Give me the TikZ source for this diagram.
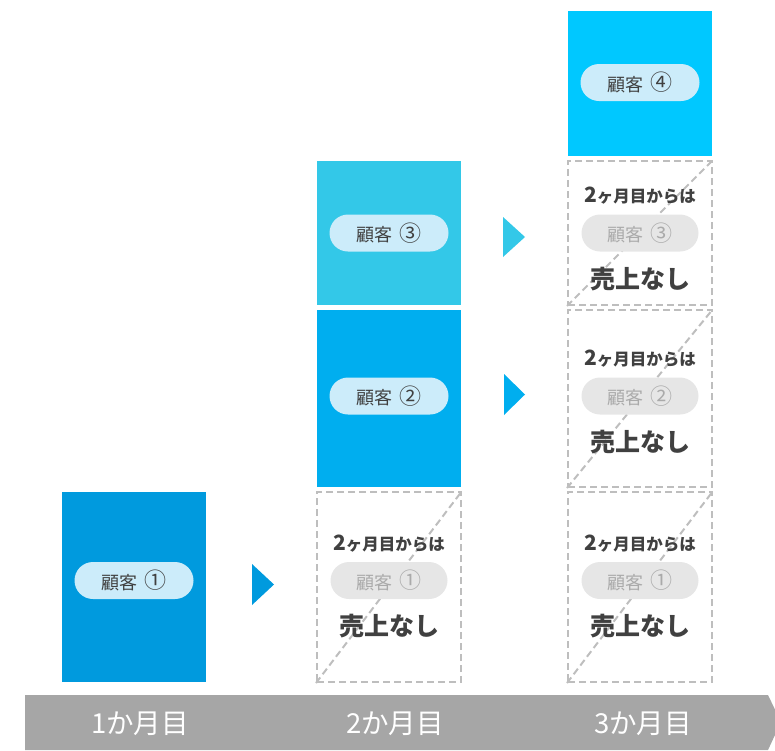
\documentclass[tikz,border=0pt]{standalone}
\usepackage{fontspec}
\setmainfont{Noto Sans CJK JP}
\definecolor{cA}{RGB}{0,154,222}
\definecolor{cB}{RGB}{0,174,239}
\definecolor{cC}{RGB}{51,200,232}
\definecolor{cD}{RGB}{0,200,255}
\definecolor{pillc}{RGB}{204,236,250}
\definecolor{pillg}{RGB}{230,230,230}
\definecolor{txtg}{RGB}{170,170,170}
\definecolor{txtd}{RGB}{64,64,64}
\definecolor{dash}{RGB}{190,190,190}
\definecolor{barc}{RGB}{166,166,166}
\newcommand{\circd}[1]{\hspace{7pt}\raisebox{0.5pt}{\fontsize{22}{24}\selectfont #1}}
\begin{document}
\begin{tikzpicture}[x=1pt,y=-1pt,
  cbox/.style={rectangle,inner sep=0,minimum width=144pt},
  dbox/.style={rectangle,inner sep=0,minimum width=144pt,draw=dash,line width=2pt,dash pattern=on 7pt off 4pt},
  diag/.style={draw=dash,line width=2pt,dash pattern=on 7pt off 4pt},
  pill/.style={rounded corners=18.5pt,inner sep=0,minimum width=119pt,minimum height=37pt,fill=pillc,text=txtd,font=\fontsize{18}{20}\selectfont},
  gpill/.style={rounded corners=18.5pt,inner sep=0,minimum width=117pt,minimum height=37pt,fill=pillg,text=txtg,font=\fontsize{18}{20}\selectfont},
  top/.style={text=txtd,font=\bfseries\fontsize{16.5}{20}\selectfont,inner sep=0},
  bot/.style={text=txtd,font=\bfseries\fontsize{25}{30}\selectfont,inner sep=0},
  lbl/.style={text=white,font=\fontsize{27.5}{32}\selectfont,inner sep=0}
]
\useasboundingbox (0,0) rectangle (775,750);
% bottom bar
\fill[barc] (25,695) -- (768,695) -- (781,722) -- (768,750) -- (25,750) -- cycle;
\node[lbl] (m1) at (140,724) {1か月目};
\node[lbl] (m2) at (395,724) {2か月目};
\node[lbl] (m3) at (643,724) {3か月目};
% column 1
\node[cbox,fill=cA,minimum height=190pt] (k1) at (134,587) {};
\node[pill] (p1) at (134,580.5) {顧客\circd{①}};
% column 2
\node[dbox,minimum height=190pt] (d21) at (389,587) {};
\draw[diag] (d21.south west) -- (d21.north east);
\node[cbox,fill=cB,minimum height=177pt] (k2) at (389,398.5) {};
\node[pill] (p2) at (389,396) {顧客\circd{②}};
\node[cbox,fill=cC,minimum height=144pt] (k3) at (389,233) {};
\node[pill] (p3) at (389,233) {顧客\circd{③}};
% column 3
\node[cbox,fill=cD,minimum height=145pt] (k4) at (640,83.5) {};
\node[pill] (p4) at (640,82.5) {顧客\circd{④}};
\node[dbox,minimum height=144pt] (d33) at (640,233) {};
\draw[diag] (d33.south west) -- (d33.north east);
\node[dbox,minimum height=177pt] (d32) at (640,398.5) {};
\draw[diag] (d32.south west) -- (d32.north east);
\node[dbox,minimum height=190pt] (d31) at (640,587) {};
\draw[diag] (d31.south west) -- (d31.north east);
% dashed box contents
\foreach \n/\x/\y/\c in {a/389/580.5/①, b/640/580.5/①, c/640/396/②, d/640/233/③}{
  \node[gpill] (g\n) at (\x,\y) {顧客\circd{\c}};
  \node[top] (t\n) at (\x,\y-37) {{\fontsize{21}{24}\selectfont 2}ヶ月目からは};
  \node[bot] (b\n) at (\x,\y+46) {売上なし};
}
% arrows
\fill[cA] (252,564) -- (274,584.5) -- (252,605) -- cycle;
\fill[cB] (504,374) -- (525,394.5) -- (504,415) -- cycle;
\fill[cC] (503,217) -- (525,237) -- (503,257) -- cycle;
\end{tikzpicture}
\end{document}
